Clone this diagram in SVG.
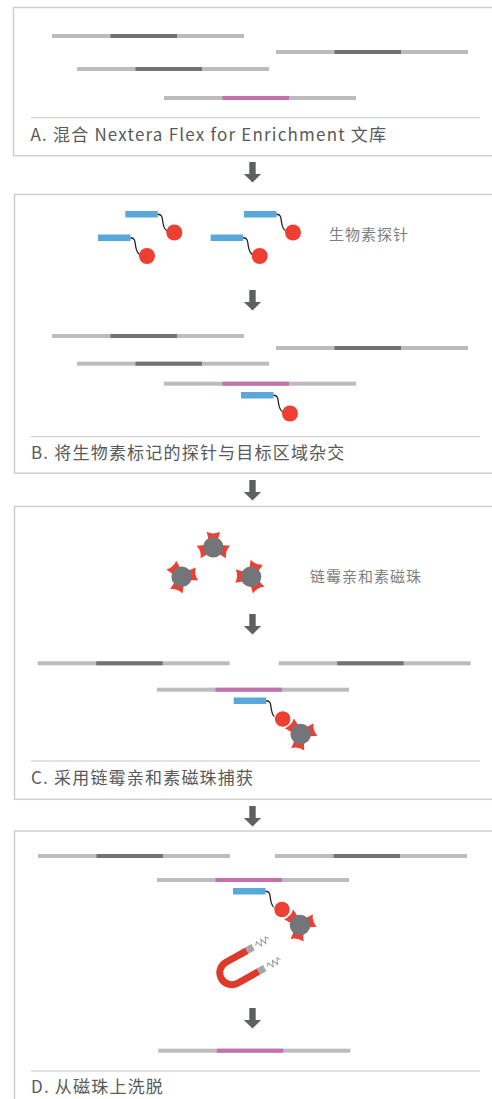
<svg xmlns="http://www.w3.org/2000/svg" xmlns:xlink="http://www.w3.org/1999/xlink" width="492" height="1099" viewBox="0 0 492 1099">
  <style>
    .panel { fill: #ffffff; stroke: #cfcfd1; stroke-width: 1.5; }
    .divider { stroke: #c9c9cb; stroke-width: 1; }
    .label { font-family: "Noto Sans CJK SC", "Noto Sans", sans-serif; font-size: 17px; letter-spacing: 1.2px; fill: #58595b; }
    .note { font-family: "Noto Sans CJK SC", "Noto Sans", sans-serif; font-size: 15px; letter-spacing: 1px; fill: #7d7e80; }
    .light { fill: #bcbcc0; }
    .dark { fill: #737376; }
    .pink { fill: #c470ad; }
    .blue { fill: #5aa7dc; }
    .biotin { fill: #ee3f33; }
    .wire { fill: none; stroke: #231f20; stroke-width: 1.3; }
    .bead { fill: #747578; }
    .sa { fill: #ee3f33; }
    .arrow { fill: #5f6062; }
  </style>
  <defs>
    <!-- DNA fragment: grey flanks with an insert segment -->
    <g id="frag-dark">
      <rect class="light" x="0" y="-2" width="192" height="4"/>
      <rect class="dark" x="58.5" y="-2" width="66.5" height="4"/>
    </g>
    <g id="frag-target">
      <rect class="light" x="0" y="-2" width="192" height="4"/>
      <rect class="pink" x="58.5" y="-2" width="66.5" height="4"/>
    </g>
    <!-- biotinylated probe: oligo, linker, biotin -->
    <g id="probe">
      <rect class="blue" x="0" y="0" width="32.5" height="6.5"/>
      <path class="wire" d="M32.5,3.25 C37,3.25 37,7 37.5,11 C38,15 39,20 44,21"/>
      <circle class="biotin" cx="49" cy="21.5" r="8"/>
    </g>
    <!-- streptavidin binding pocket, pointing along +x -->
    <path id="pocket" class="sa" d="M6,-4.4 L15.5,-6.6 Q12.3,0 15.5,6.6 L6,4.4 Z"/>
    <!-- down arrow between steps -->
    <path id="down" class="arrow" d="M-3.2,0 H3.2 V12 H8.6 L0,20.5 L-8.6,12 H-3.2 Z"/>
  </defs>

  <!-- A: pooled libraries -->
  <g id="panel-a">
    <rect class="panel" x="13.5" y="7.5" width="500" height="148.2"/>
    <use xlink:href="#frag-dark" transform="translate(52,36)"/>
    <use xlink:href="#frag-dark" transform="translate(276,52)"/>
    <use xlink:href="#frag-dark" transform="translate(77,69)"/>
    <use xlink:href="#frag-target" transform="translate(164,98)"/>
    <line class="divider" x1="31" y1="117.7" x2="480" y2="117.7"/>
    <text class="label" x="30.5" y="140.7">A. 混合 Nextera Flex for Enrichment 文库</text>
  </g>

  <!-- B: hybridise biotinylated probes -->
  <g id="panel-b">
    <rect class="panel" x="14.5" y="194.5" width="500" height="278.7"/>
    <g id="probes-free">
      <use xlink:href="#probe" transform="translate(125.3,211)"/>
      <use xlink:href="#probe" transform="translate(98,234.5)"/>
      <use xlink:href="#probe" transform="translate(244,211)"/>
      <use xlink:href="#probe" transform="translate(210.7,234.5)"/>
    </g>
    <text class="note" x="329" y="239.5">生物素探针</text>
    <use xlink:href="#frag-dark" transform="translate(52,336)"/>
    <use xlink:href="#frag-dark" transform="translate(276,348)"/>
    <use xlink:href="#frag-dark" transform="translate(77,363.7)"/>
    <use xlink:href="#frag-target" transform="translate(164,383.7)"/>
    <use xlink:href="#probe" transform="translate(241,392)"/>
    <line class="divider" x1="31" y1="436.7" x2="480" y2="436.7"/>
    <text class="label" x="31" y="459">B. 将生物素标记的探针与目标区域杂交</text>
  </g>

  <!-- C: streptavidin bead capture -->
  <g id="panel-c">
    <rect class="panel" x="14.5" y="506.5" width="500" height="292.8"/>
    <g id="bead-1" transform="translate(213.3,547.3)">
      <use xlink:href="#pocket" transform="rotate(-90)"/>
      <use xlink:href="#pocket" transform="rotate(18)"/>
      <use xlink:href="#pocket" transform="rotate(162)"/>
      <circle class="bead" r="10.3"/>
    </g>
    <g id="bead-2" transform="translate(181.7,576.7)">
      <use xlink:href="#pocket" transform="rotate(-132)"/>
      <use xlink:href="#pocket" transform="rotate(-10)"/>
      <use xlink:href="#pocket" transform="rotate(110)"/>
      <circle class="bead" r="10.3"/>
    </g>
    <g id="bead-3" transform="translate(251,576.7)">
      <use xlink:href="#pocket" transform="rotate(-68)"/>
      <use xlink:href="#pocket" transform="rotate(60)"/>
      <use xlink:href="#pocket" transform="rotate(182)"/>
      <circle class="bead" r="10.3"/>
    </g>
    <text class="note" x="310" y="581.5">链霉亲和素磁珠</text>
    <use xlink:href="#frag-dark" transform="translate(37.7,663.3)"/>
    <use xlink:href="#frag-dark" transform="translate(278.7,663.3)"/>
    <use xlink:href="#frag-target" transform="translate(157,689.7)"/>
    <g id="bead-c" transform="translate(300.7,734)">
      <use xlink:href="#pocket" transform="rotate(-137)"/>
      <use xlink:href="#pocket" transform="rotate(-17)"/>
      <use xlink:href="#pocket" transform="rotate(101)"/>
      <circle class="bead" r="10.3"/>
    </g>
    <use xlink:href="#probe" transform="translate(233.7,697.5)"/>
    <circle cx="282.7" cy="719" r="8.3" fill="none" stroke="#ffffff" stroke-width="1"/>
    <line class="divider" x1="31" y1="761" x2="480" y2="761"/>
    <text class="label" x="31" y="784">C. 采用链霉亲和素磁珠捕获</text>
  </g>

  <!-- D: magnetic separation and elution -->
  <g id="panel-d">
    <rect class="panel" x="14.5" y="831" width="500" height="300"/>
    <use xlink:href="#frag-dark" transform="translate(38,856)"/>
    <use xlink:href="#frag-dark" transform="translate(275,856)"/>
    <use xlink:href="#frag-target" transform="translate(157,880)"/>
    <g id="bead-d" transform="translate(300,925)">
      <use xlink:href="#pocket" transform="rotate(-137)"/>
      <use xlink:href="#pocket" transform="rotate(-17)"/>
      <use xlink:href="#pocket" transform="rotate(101)"/>
      <circle class="bead" r="10.3"/>
    </g>
    <use xlink:href="#probe" transform="translate(233,888)"/>
    <circle cx="282" cy="909.5" r="8.3" fill="none" stroke="#ffffff" stroke-width="1"/>
    <g id="magnet" transform="translate(231.8,972.7) rotate(-29)">
      <path d="M24,-12 H0 A12,12 0 0 0 0,12 H24" fill="none" stroke="#dd3a2c" stroke-width="7"/>
      <path d="M24,-12 H31 M24,12 H31" fill="none" stroke="#a5a5a8" stroke-width="7"/>
      <polyline points="34,-12 36.5,-15 39,-9 41.5,-15 44,-9 46.5,-15 49,-12" fill="none" stroke="#9a9a9d" stroke-width="1"/>
      <polyline points="34,12 36.5,9 39,15 41.5,9 44,15 46.5,9 49,12" fill="none" stroke="#9a9a9d" stroke-width="1"/>
    </g>
    <use xlink:href="#frag-target" transform="translate(158.3,1050.7)"/>
    <line class="divider" x1="31" y1="1071" x2="480" y2="1071"/>
    <text class="label" x="31" y="1093.3">D. 从磁珠上洗脱</text>
  </g>

  <!-- step arrows -->
  <g id="connectors">
    <use xlink:href="#down" transform="translate(252.5,162)"/>
    <use xlink:href="#down" transform="translate(252.5,290)"/>
    <use xlink:href="#down" transform="translate(252.5,480)"/>
    <use xlink:href="#down" transform="translate(252.5,614)"/>
    <use xlink:href="#down" transform="translate(252.5,806)"/>
    <use xlink:href="#down" transform="translate(252.5,1008)"/>
  </g>
</svg>
